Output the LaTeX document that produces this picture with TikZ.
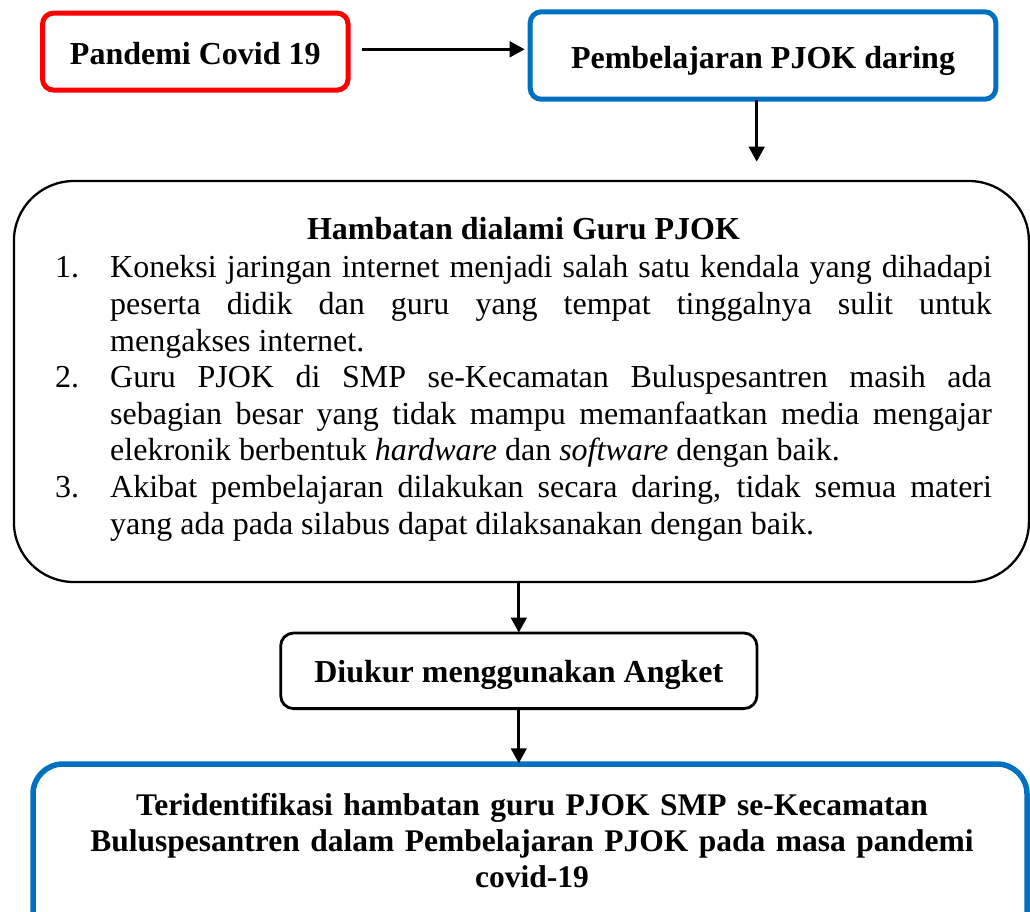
\documentclass[tikz,border=0pt]{standalone}
\usepackage{fontspec}
\setmainfont{Liberation Serif}
\usetikzlibrary{arrows.meta,calc}
\definecolor{boxred}{RGB}{255,0,0}
\definecolor{boxblue}{RGB}{0,112,192}
\begin{document}
\begin{tikzpicture}[x=1pt,y=-1pt,
  every node/.style={font=\fontsize{32}{36.6}\selectfont},
  smallbox/.style={draw, rounded corners=11pt, inner sep=0pt, text depth=0pt, font=\fontsize{32}{36.6}\selectfont\bfseries},
  arr/.style={-{Triangle[length=15pt,width=15.5pt]}, line width=3pt}]
\useasboundingbox (0,0) rectangle (1030,911);
\clip (0,0) rectangle (1030,911);
\fill[white] (0,0) rectangle (1030,911);
% top boxes
\node[smallbox, draw=boxred, line width=5pt, minimum width=305.5pt, minimum height=77pt, text height=24.8pt] (red) at (195.3,51.6) {Pandemi Covid 19};
\node[smallbox, draw=boxblue, line width=5pt, minimum width=465.6pt, minimum height=87.4pt, text height=25.6pt] (blue) at (763,55.5) {Pembelajaran PJOK daring};
% big box
\node[draw, line width=2.3pt, rounded corners=60pt, minimum width=1015pt, minimum height=401pt, inner sep=0pt] (hamb) at (521.4,381.5) {};
\node[text width=936.7pt, align=justify, inner sep=0pt, anchor=base west] (hambtxt) at (55,239) {%
{\centering\bfseries Hambatan dialami Guru PJOK\par}\vskip 2.2pt
\tolerance=10000\hyphenpenalty=10000
\hangindent=55pt\hangafter=1\noindent\makebox[55pt][l]{1.}Koneksi jaringan internet menjadi salah satu kendala yang dihadapi\linebreak peserta didik dan guru yang tempat tinggalnya sulit untuk\linebreak mengakses internet.\par
\hangindent=55pt\hangafter=1\noindent\makebox[55pt][l]{2.}Guru PJOK di SMP se-Kecamatan Buluspesantren masih ada\linebreak sebagian besar yang tidak mampu memanfaatkan media mengajar\linebreak elekronik berbentuk \textit{hardware} dan \textit{software} dengan baik.\par
\hangindent=55pt\hangafter=1\noindent\makebox[55pt][l]{3.}Akibat pembelajaran dilakukan secara daring, tidak semua materi\linebreak yang ada pada silabus dapat dilaksanakan dengan baik.\par};
% measure box
\node[smallbox, draw=black, line width=2.8pt, rounded corners=13pt, minimum width=476.3pt, minimum height=75.6pt, text height=22.4pt] (diukur) at (518.8,670.8) {Diukur menggunakan Angket};
% final box
\node[draw=boxblue, line width=5.5pt, rounded corners=30pt, minimum width=994pt, minimum height=188pt, inner sep=0pt] (final) at (530,858) {};
\node[text width=1000pt, align=center, inner sep=0pt, anchor=base, font=\fontsize{31.5}{36.3}\selectfont\bfseries] (finaltxt) at (532,815) {Teridentifikasi hambatan guru PJOK SMP se-Kecamatan\\ Buluspesantren dalam Pembelajaran PJOK pada masa pandemi\\ covid-19};
% connectors
\coordinate (a1end) at (756.7,161.7);
\draw[arr] ([xshift=11pt]red.east |- 0,49.3) -- ([xshift=-3pt]blue.west |- 0,49.3);
\draw[arr] ([yshift=2pt]blue.south -| a1end) -- (a1end);
\draw[arr] (hamb.south -| diukur.north) -- ([yshift=-1pt]diukur.north);
\draw[arr] (diukur.south) -- ([yshift=-2pt]final.north -| diukur.south);
\end{tikzpicture}
\end{document}
